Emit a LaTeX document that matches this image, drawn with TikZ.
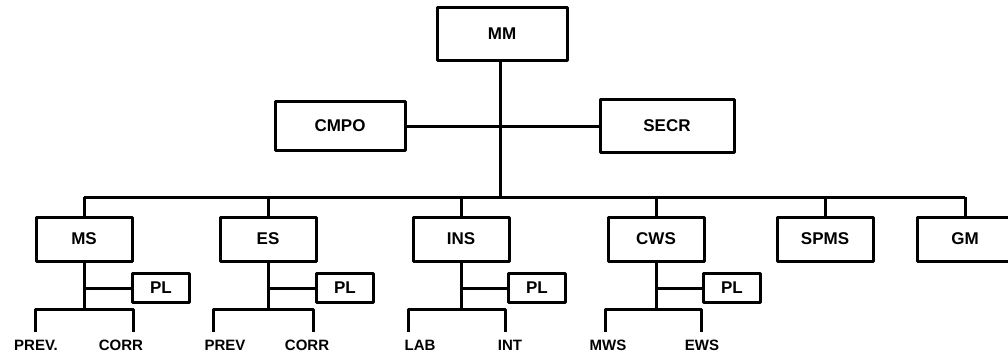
\documentclass[tikz,border=0pt]{standalone}
\usepackage{fontspec}
\setmainfont{Liberation Sans}
\begin{document}
\begin{tikzpicture}[x=1pt,y=-1pt,
  line width=3pt, line join=round,
  box/.style={draw, rectangle, inner sep=0pt, font=\fontsize{17}{17}\selectfont\bfseries},
  rowbox/.style={box, minimum width=96pt, minimum height=44pt},
  plbox/.style={box, minimum width=57pt, minimum height=29pt},
  lab/.style={inner sep=0pt, font=\fontsize{15}{15}\selectfont\bfseries}]
\useasboundingbox (0,0) rectangle (1008,354);
% top
\node[box, minimum width=130pt, minimum height=53pt] (MM) at (502,34) {MM};
\node[box, minimum width=130pt, minimum height=49pt] (CMPO) at (340,126) {CMPO};
\node[box, minimum width=134pt, minimum height=53pt] (SECR) at (667,126) {SECR};
\coordinate (busC) at (500,197);
\coordinate (busL) at (84,197);
\coordinate (busR) at (965,197);
\draw (MM.south -| busC) -- (busC);
\draw (CMPO.east) -- (SECR.west);
% row
\node[rowbox] (MS) at (84,239) {MS};
\node[rowbox] (ES) at (268,239) {ES};
\node[rowbox] (INS) at (461,239) {INS};
\node[rowbox] (CWS) at (656,239) {CWS};
\node[rowbox] (SPMS) at (825,239) {SPMS};
\node[rowbox] (GM) at (965,239) {GM};
\draw (busL) -- (busR);
\foreach \n in {MS,ES,INS,CWS,SPMS,GM} \draw (\n.north) -- (\n.north |- busC);
% PL boxes
\node[plbox] (PL1) at (161,288) {PL};
\node[plbox] (PL2) at (345,288) {PL};
\node[plbox] (PL3) at (537,288) {PL};
\node[plbox] (PL4) at (732,288) {PL};
% branch points
\coordinate (b1) at (84,309);
\coordinate (b2) at (268,309);
\coordinate (b3) at (461,309);
\coordinate (b4) at (656,309);
\draw (MS.south) -- (b1);
\draw (ES.south) -- (b2);
\draw (INS.south) -- (b3);
\draw (CWS.south) -- (b4);
\draw (MS.south |- PL1.west) -- (PL1.west);
\draw (ES.south |- PL2.west) -- (PL2.west);
\draw (INS.south |- PL3.west) -- (PL3.west);
\draw (CWS.south |- PL4.west) -- (PL4.west);
% legs
\coordinate (l1) at (35,332);  \coordinate (r1) at (133,332);
\coordinate (l2) at (213,332); \coordinate (r2) at (313,332);
\coordinate (l3) at (408,332); \coordinate (r3) at (505,332);
\coordinate (l4) at (605,332); \coordinate (r4) at (701,332);
\draw (l1) |- (b1) -| (r1);
\draw (l2) |- (b2) -| (r2);
\draw (l3) |- (b3) -| (r3);
\draw (l4) |- (b4) -| (r4);
% labels
\node[lab] (t1) at (36,345) {PREV.};
\node[lab] (t2) at (121,345) {CORR};
\node[lab] (t3) at (225,345) {PREV};
\node[lab] (t4) at (307,345) {CORR};
\node[lab] (t5) at (420,345) {LAB};
\node[lab] (t6) at (510,345) {INT};
\node[lab] (t7) at (608,345) {MWS};
\node[lab] (t8) at (702,345) {EWS};
\end{tikzpicture}
\end{document}
